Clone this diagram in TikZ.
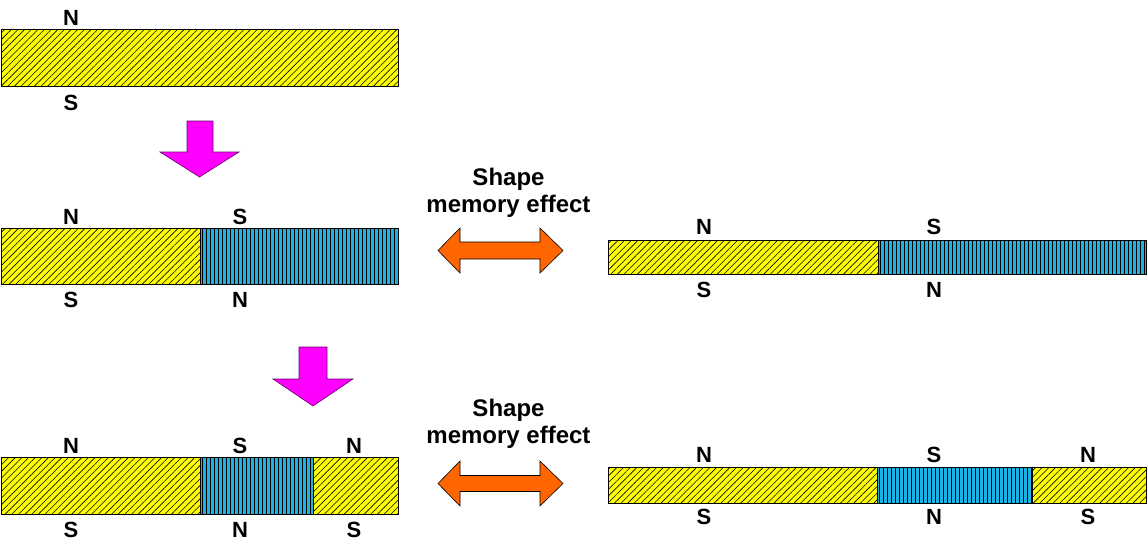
\documentclass[tikz,border=0pt]{standalone}
\usepackage{fontspec}
\setmainfont{Liberation Sans}
\usetikzlibrary{patterns.meta}
\definecolor{barY}{RGB}{255,255,0}
\definecolor{barB}{RGB}{28,178,228}
\definecolor{arrM}{RGB}{255,0,255}
\definecolor{arrO}{RGB}{255,102,0}
\tikzset{
  seg/.style={draw=black, line width=0.8pt, inner sep=0pt, outer sep=0pt, anchor=north west},
  yseg/.style={seg, preaction={fill=barY}, pattern={Lines[angle=45,distance=4.7pt,line width=0.6pt]}, pattern color=black},
  bseg/.style={seg, fill=barB, path picture={
      \foreach \k in {0,4,...,400}
        \draw[line width=0.65pt, black]
          ([xshift=\k pt+2pt]path picture bounding box.north west) --
          ([xshift=\k pt+2pt]path picture bounding box.south west);}},
  pole/.style={font=\fontsize{22}{22}\selectfont\bfseries, inner sep=0pt},
  sme/.style={font=\fontsize{24}{27}\selectfont\bfseries, inner sep=0pt, align=center, anchor=base},
  downarr/.style={fill=arrM, draw=black!60!arrM, line width=0.6pt},
  dblarr/.style={fill=arrO, draw=black, line width=0.6pt},
}
\begin{document}
\begin{tikzpicture}[x=1pt,y=-1pt]
\useasboundingbox (0,0) rectangle (1148,546);
% top bar
\node[yseg, minimum width=397pt, minimum height=57pt] (t1) at (1,29) {};
\node[pole] (tN) at (71,17.5) {N};
\node[pole] (tS) at (71,102.5) {S};
% arrow down 1
\draw[downarr] (187,121) -- (213,121) -- (213,152) -- (239,152) -- (199.5,177) -- (160,152) -- (187,152) -- cycle;
% bar 2
\node[yseg, minimum width=199pt, minimum height=56pt] (m1) at (1,228) {};
\node[bseg, minimum width=198pt, minimum height=56pt] (m2) at (200,228) {};
\node[pole] (mN1) at (71,216.5) {N};
\node[pole] (mS2) at (240,216.5) {S};
\node[pole] (mS1) at (71,300) {S};
\node[pole] (mN2) at (240,300) {N};
% shape memory 1
\node[sme] (sm1) at (508.5,212) {Shape\\memory effect};
\draw[dblarr] (438,250.5) -- (460,228) -- (460,242) -- (540,242) -- (540,228) -- (563,250.5) -- (540,273) -- (540,259) -- (460,259) -- (460,273) -- cycle;
% right bar 1
\node[yseg, minimum width=270pt, minimum height=34pt] (r1) at (608,240) {};
\node[bseg, minimum width=268pt, minimum height=34pt] (r2) at (878,240) {};
\node[pole] (rN1) at (704,226.5) {N};
\node[pole] (rS2) at (934,226.5) {S};
\node[pole] (rS1) at (704,290) {S};
\node[pole] (rN2) at (934,290) {N};
% arrow down 2
\draw[downarr] (299,347) -- (327,347) -- (327,379) -- (353,379) -- (313,406) -- (273,379) -- (299,379) -- cycle;
% bar 3
\node[yseg, minimum width=199pt, minimum height=57pt] (b1) at (1,457) {};
\node[bseg, minimum width=113pt, minimum height=57pt] (b2) at (200,457) {};
\node[yseg, minimum width=85pt, minimum height=57pt] (b3) at (313,457) {};
\node[pole] (bN1) at (71,445.5) {N};
\node[pole] (bS2) at (240,445.5) {S};
\node[pole] (bN3) at (354,445.5) {N};
\node[pole] (bS1) at (71,530) {S};
\node[pole] (bN2) at (240,530) {N};
\node[pole] (bS3) at (354,530) {S};
% shape memory 2
\node[sme] (sm2) at (508.5,443) {Shape\\memory effect};
\draw[dblarr] (438,483.5) -- (460,461) -- (460,475.5) -- (540,475.5) -- (540,461) -- (563,483.5) -- (540,506) -- (540,491.5) -- (460,491.5) -- (460,506) -- cycle;
% right bar 2
\node[yseg, minimum width=269pt, minimum height=36pt] (q1) at (608,467) {};
\node[bseg, minimum width=155pt, minimum height=36pt] (q2) at (877,467) {};
\node[yseg, minimum width=114pt, minimum height=36pt] (q3) at (1032,467) {};
\node[pole] (qN1) at (704,455) {N};
\node[pole] (qS2) at (934,455) {S};
\node[pole] (qN3) at (1088,455) {N};
\node[pole] (qS1) at (704,517) {S};
\node[pole] (qN2) at (934,517) {N};
\node[pole] (qS3) at (1088,517) {S};
\end{tikzpicture}
\end{document}
